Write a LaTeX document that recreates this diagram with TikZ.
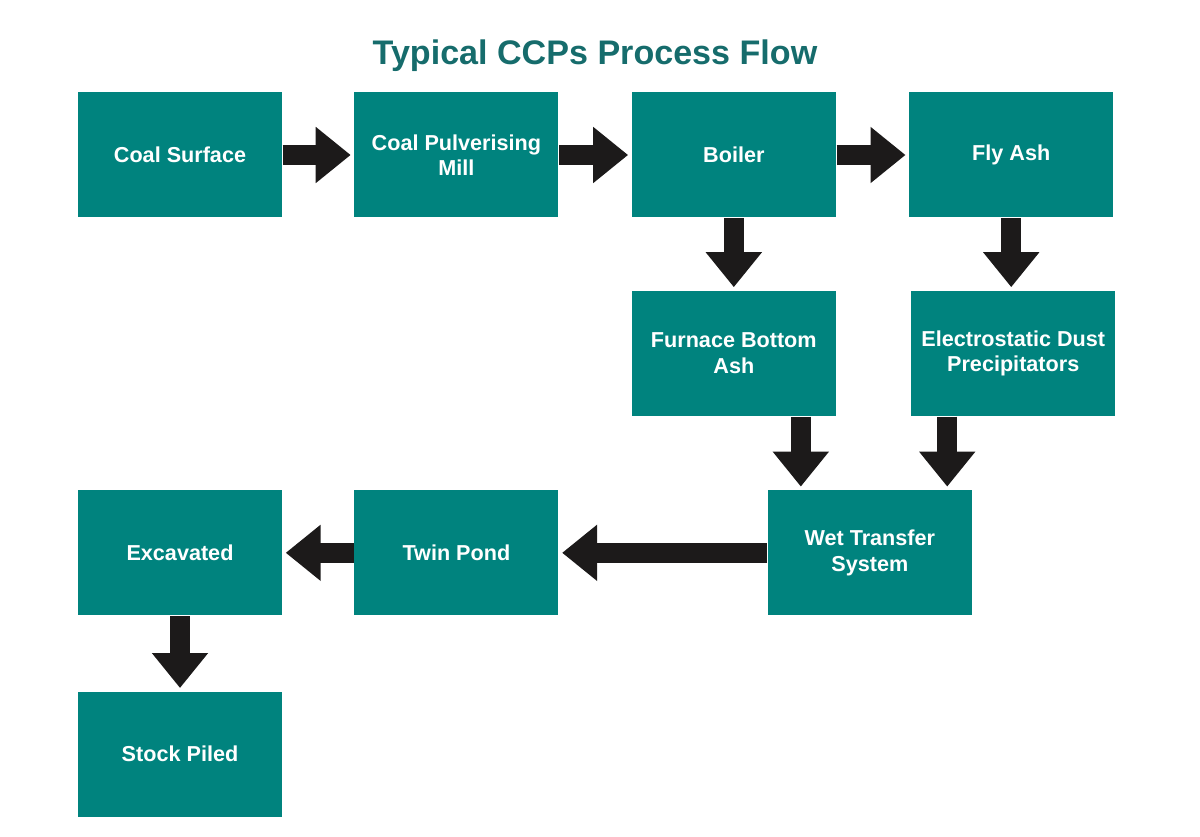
\documentclass[tikz,border=0pt]{standalone}
\usepackage{fontspec}
\setmainfont{Liberation Sans}
\usetikzlibrary{positioning,arrows.meta}
\definecolor{ccpteal}{RGB}{0,131,126}
\definecolor{ccptitle}{RGB}{22,108,108}
\definecolor{ccparrow}{RGB}{28,26,26}

\begin{document}
\begin{tikzpicture}[node distance={1.44cm}, thick,
  stage/.style = {fill=ccpteal, text=white, minimum width=4.08cm, minimum height=2.5cm,
    align=center, font=\bfseries\fontsize{12.3}{14.5}\selectfont, inner sep=2pt},
  flow/.style = {draw=ccparrow, line width=0.4cm, -{Triangle[length=0.7cm,width=1.08cm]}, shorten >=0.06cm}]
\useasboundingbox (0,0) rectangle (24,-16.72);
\node[font=\bfseries\fontsize{19.4}{23}\selectfont, text=ccptitle] (title) at (11.9,-1.12) {Typical CCPs Process Flow};
\node[stage] (coal) at (3.6,-3.1) {Coal Surface};
\node[stage] (mill) [right=1.42cm of coal] {Coal Pulverising\\Mill};
\node[stage] (boiler) [right=1.44cm of mill] {Boiler};
\node[stage] (fly) [right=1.44cm of boiler] {Fly Ash};
\node[stage] (furnace) [below=1.44cm of boiler] {Furnace Bottom\\Ash};
\node[stage] (edp) [below=1.44cm of fly, xshift=0.04cm] {Electrostatic Dust\\Precipitators};
\node[stage] (wet) [below=1.46cm of furnace, xshift=2.72cm] {Wet Transfer\\System};
\node[stage] (pond) at (mill |- wet) {Twin Pond};
\node[stage] (excav) at (coal |- wet) {Excavated};
\node[stage] (stock) [below=1.5cm of excav] {Stock Piled};
\draw[flow] (coal) -- (mill);
\draw[flow] (mill) -- (boiler);
\draw[flow] (boiler) -- (fly);
\draw[flow] (boiler) -- (furnace);
\draw[flow] (fly.south) -- (fly.south |- edp.north);
\draw[flow] ([xshift=1.34cm]furnace.south) -- ([xshift=1.34cm]furnace.south |- wet.north);
\draw[flow] ([xshift=-1.32cm]edp.south) -- ([xshift=-1.32cm]edp.south |- wet.north);
\draw[flow] (wet) -- (pond);
\draw[flow] (pond) -- (excav);
\draw[flow] (excav) -- (stock);
\end{tikzpicture}
\end{document}
